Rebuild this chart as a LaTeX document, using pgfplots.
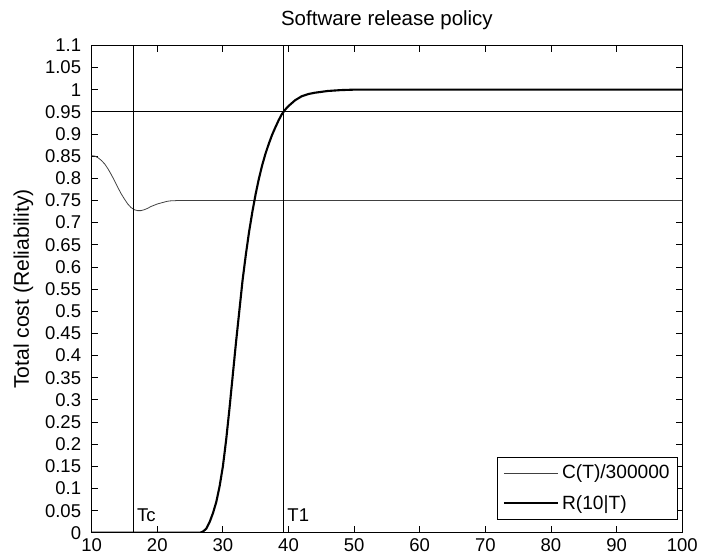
\documentclass[border=0pt]{standalone}
\usepackage{fontspec}
\setmainfont{Liberation Sans}
\usepackage{pgfplots}
\pgfplotsset{compat=1.18}

\begin{document}
\begin{tikzpicture}
\begin{axis}[
  scale only axis,
  width=447pt, height=369pt,
  xmin=10, xmax=100, ymin=0, ymax=1.1,
  xtick={10,20,...,100},
  ytick={0,0.05,...,1.1},
  yticklabels={0,0.05,0.1,0.15,0.2,0.25,0.3,0.35,0.4,0.45,0.5,0.55,0.6,0.65,0.7,0.75,0.8,0.85,0.9,0.95,1,1.05,1.1},
  tick align=inside,
  major tick length=5pt,
  tick style={black, line width=0.6pt},
  axis line style={line width=0.7pt},
  /pgf/number format/assume math mode=true,
  tick label style={font=\fontsize{14}{14}\selectfont},
  yticklabel style={xshift=-4.5pt},
  xticklabel style={yshift=-1pt},
  title={Software release policy},
  title style={font=\fontsize{15.5}{16}\selectfont, yshift=2pt},
  ylabel={Total cost (Reliability)},
  ylabel style={font=\fontsize{16}{16}\selectfont, yshift=2pt},
  legend style={at={(0.993,0.027)}, anchor=south east, font=\fontsize{14.5}{15}\selectfont,
    draw=black, line width=0.7pt, inner sep=4pt, row sep=7pt},
  legend cell align=left,
  legend image code/.code={\draw[#1] (0cm,0cm) -- (1.45cm,0cm);},
]
% C(T)/300000
\addplot[black!75, line width=0.6pt] coordinates {
 (10,0.851) (10.5,0.850) (11,0.846) (11.5,0.840) (12,0.832) (12.5,0.821) (13,0.808) (13.5,0.794)
 (14,0.779) (14.5,0.765) (15,0.753) (15.5,0.742) (16,0.734) (16.5,0.729) (17,0.727)
 (17.5,0.727) (18,0.729) (18.5,0.732) (19,0.736) (19.5,0.739) (20,0.742) (20.5,0.744)
 (21,0.746) (21.5,0.748) (22,0.749) (23,0.7497) (24,0.750) (100,0.750)};
\addlegendentry{C(T)/300000}
% R(10|T)
\addplot[black, line width=1.6pt] coordinates {
 (10,0) (26.5,0) (27,0.003) (27.5,0.010) (28,0.025) (28.5,0.045) (29,0.07)
 (29.5,0.105) (30,0.15) (30.5,0.21) (31,0.28) (31.5,0.355) (32,0.43) (32.5,0.50)
 (33,0.57) (33.5,0.628) (34,0.68) (34.5,0.725) (35,0.765) (35.5,0.80)
 (36,0.83) (36.5,0.856) (37,0.878) (37.5,0.898) (38,0.915) (38.5,0.931) (39,0.945)
 (39.5,0.955) (40,0.963) (41,0.976) (42,0.985) (43,0.990) (44,0.993) (46,0.997)
 (48,0.999) (50,1) (100,1)};
\addlegendentry{R(10|T)}
% reference lines
\addplot[black, line width=0.6pt, forget plot] coordinates {(10,0.95) (100,0.95)};
\addplot[black, line width=0.6pt, forget plot] coordinates {(16.4,0) (16.4,1.1)};
\addplot[black, line width=0.6pt, forget plot] coordinates {(39.2,0) (39.2,1.1)};
\node[anchor=base west, inner sep=0pt, font=\fontsize{14}{14}\selectfont] at (axis cs:16.9,0.025) {Tc};
\node[anchor=base west, inner sep=0pt, font=\fontsize{14}{14}\selectfont] at (axis cs:39.8,0.025) {T1};
\end{axis}
% margins as in the reference
\path (current bounding box.south west) ++(-7pt,0pt);
\path (current bounding box.north west) ++(0pt,5pt);
\end{tikzpicture}
\end{document}
